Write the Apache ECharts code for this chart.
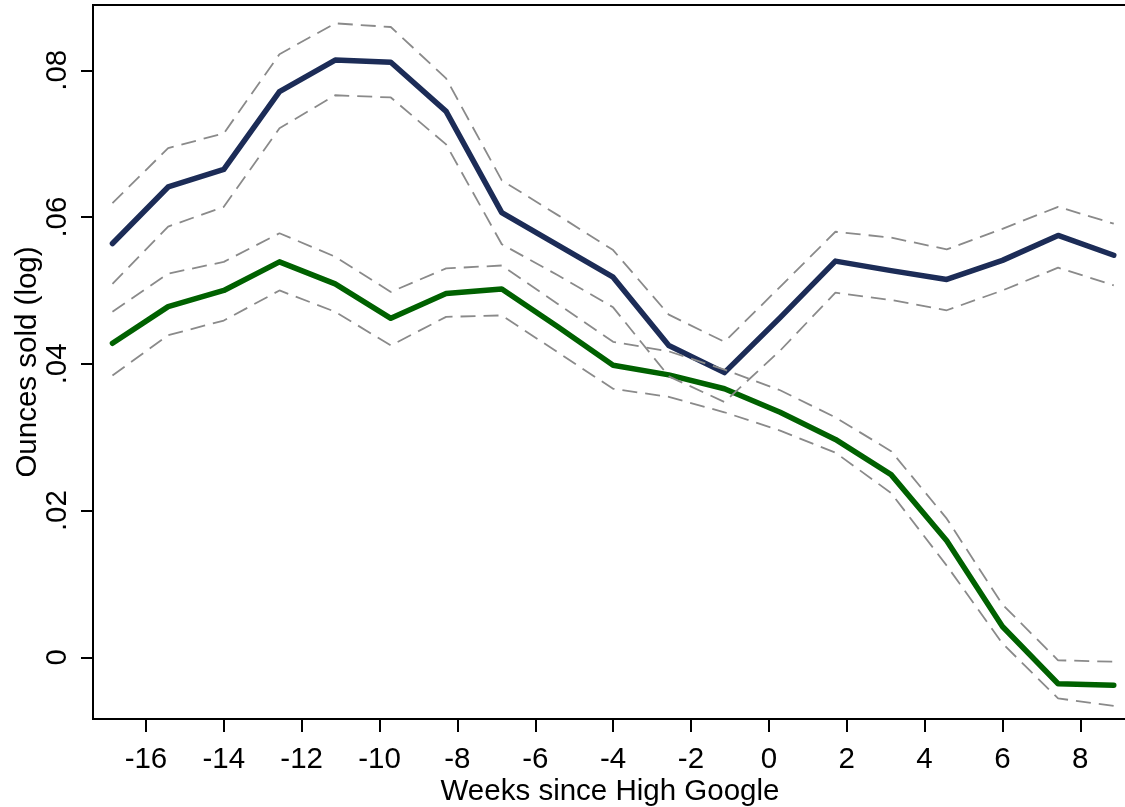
<!DOCTYPE html>
<html>
<head>
<meta charset="utf-8">
<script src="https://cdn.jsdelivr.net/npm/echarts@6/dist/echarts.min.js"></script>
<style>
html, body { margin: 0; padding: 0; background: #fff; }
#chart { width: 1125px; height: 807px; }
</style>
</head>
<body>
<div id="chart"></div>
<script>
// weeks since High Google (one point every 10 days)
const weeks = [-16.86, -15.43, -14, -12.57, -11.14, -9.71, -8.29, -6.86, -5.43, -4,
    -2.57, -1.14, 0.29, 1.71, 3.14, 4.57, 6, 7.43, 8.86];

// navy line and its band
const blueMain = [0.0564, 0.0641, 0.0665, 0.0771, 0.0814, 0.0811, 0.0744, 0.0606, 0.0562, 0.0518,
    0.0425, 0.0388, 0.0463, 0.0540, 0.0527, 0.0515, 0.0541, 0.0575, 0.0548];
const blueUpper = [0.0619, 0.0694, 0.0714, 0.0822, 0.0864, 0.0859, 0.0789, 0.0650, 0.0603, 0.0555,
    0.0467, 0.0430, 0.0505, 0.0580, 0.0572, 0.0556, 0.0584, 0.0614, 0.0591];
const blueLower = [0.0509, 0.0587, 0.0614, 0.0721, 0.0766, 0.0763, 0.0699, 0.0563, 0.0521, 0.0477,
    0.0383, 0.0348, 0.0418, 0.0497, 0.0487, 0.0473, 0.0500, 0.0531, 0.0507];

// green line and its band
const greenMain = [0.0428, 0.0478, 0.0500, 0.0539, 0.0509, 0.0462, 0.0496, 0.0502, 0.0451, 0.0398,
    0.0385, 0.0366, 0.0334, 0.0297, 0.0249, 0.0159, 0.0042, -0.0036, -0.0038];
const greenUpper = [0.0471, 0.0523, 0.0539, 0.0578, 0.0546, 0.0498, 0.0530, 0.0534, 0.0482, 0.0430,
    0.0417, 0.0392, 0.0364, 0.0327, 0.0281, 0.0189, 0.0072, -0.0004, -0.0006];
const greenLower = [0.0384, 0.0439, 0.0459, 0.0500, 0.0471, 0.0425, 0.0464, 0.0466, 0.0416, 0.0366,
    0.0355, 0.0334, 0.0309, 0.0279, 0.0224, 0.0125, 0.0019, -0.0056, -0.0066];

const xTicks = [-16, -14, -12, -10, -8, -6, -4, -2, 0, 2, 4, 6, 8];
const yTicks = [0, 0.02, 0.04, 0.06, 0.08];
const yTickLabels = ['0', '.02', '.04', '.06', '.08'];

const font = "'Liberation Sans', Arial, sans-serif";

function pairs(ys) {
    return weeks.map((w, i) => [w, ys[i]]);
}

function solid(name, ys, color) {
    return {
        name: name, type: 'line', data: pairs(ys), symbol: 'none',
        lineStyle: { color: color, width: 5.5, cap: 'round', join: 'round' },
        z: 2
    };
}

function band(name, ys) {
    return {
        name: name, type: 'line', data: pairs(ys), symbol: 'none',
        lineStyle: { color: '#8a8a8a', width: 1.8, type: [15, 8] },
        z: 3
    };
}

let chart = echarts.init(document.getElementById('chart'));
chart.setOption({
    animation: false,
    grid: {
        left: 93, right: -2, top: 5, bottom: 88,
        outerBoundsMode: 'none',
        containLabel: false,
        show: true, borderColor: '#000', borderWidth: 2
    },
    xAxis: {
        type: 'value',
        min: -17.36,
        max: 9.2,
        name: 'Weeks since High Google',
        nameLocation: 'middle',
        nameGap: 58,
        nameMoveOverlap: false,
        nameTextStyle: { color: '#000', fontSize: 29.5, fontFamily: font },
        splitLine: { show: false },
        axisLine: { show: true, onZero: false, lineStyle: { color: '#000', width: 2 } },
        axisTick: { show: true, length: 13, customValues: xTicks, lineStyle: { color: '#000', width: 2 } },
        axisLabel: {
            customValues: xTicks, color: '#000', fontSize: 29.5, fontFamily: font, margin: 26
        }
    },
    yAxis: {
        type: 'value',
        min: -0.0084,
        max: 0.0889,
        name: 'Ounces sold (log)',
        nameLocation: 'middle',
        nameGap: 50,
        nameMoveOverlap: false,
        nameRotate: 90,
        nameTextStyle: { color: '#000', fontSize: 29.5, fontFamily: font },
        splitLine: { show: false },
        axisLine: { show: true, onZero: false, lineStyle: { color: '#000', width: 2 } },
        axisTick: { show: true, length: 12, customValues: yTicks, lineStyle: { color: '#000', width: 2 } },
        axisLabel: {
            customValues: yTicks, rotate: 90, color: '#000', fontSize: 29.5, fontFamily: font, margin: 20,
            formatter: function(v) {
                let i = yTicks.findIndex(t => Math.abs(t - v) < 1e-9);
                return i >= 0 ? yTickLabels[i] : '';
            }
        }
    },
    series: [
        solid('blue', blueMain, '#1c2c57'),
        solid('green', greenMain, '#006100'),
        band('blue upper', blueUpper),
        band('blue lower', blueLower),
        band('green upper', greenUpper),
        band('green lower', greenLower)
    ]
});
</script>
</body>
</html>
